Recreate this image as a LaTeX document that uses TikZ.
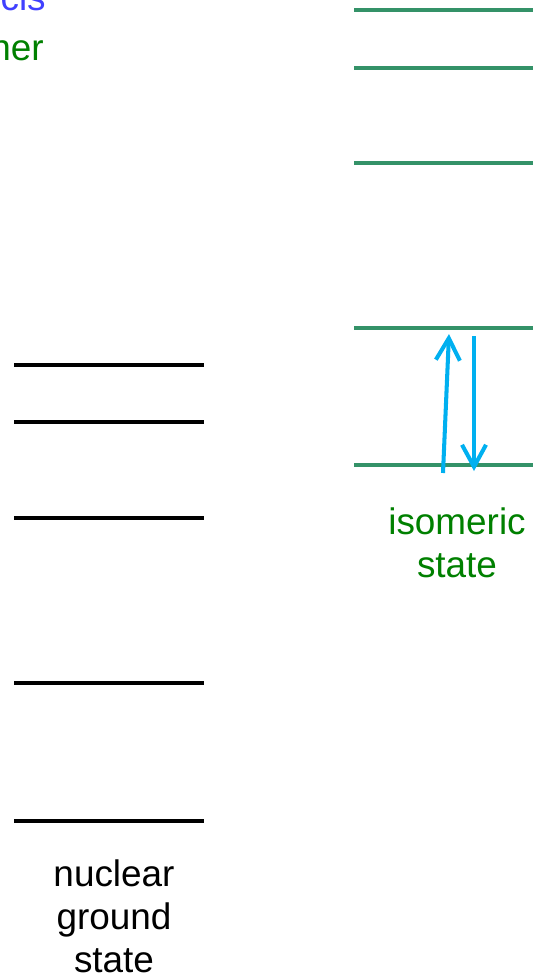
\documentclass[tikz,border=0pt]{standalone}
\usepackage{fontspec}
\setmainfont{Liberation Sans}
\usepackage{tikz}
\usetikzlibrary{arrows.meta,positioning}
\definecolor{levelgreen}{RGB}{52,146,104}
\definecolor{textgreen}{RGB}{0,128,0}
\definecolor{textblue}{RGB}{64,64,255}
\definecolor{transcyan}{RGB}{0,176,240}

\begin{document}
\begin{tikzpicture}[
  x=0.02cm, y=-0.02cm,
  level/.style={line width=2.3pt},
  isolevel/.style={line width=2.3pt, levelgreen},
  label/.style={align=center, inner sep=0pt, font=\fontsize{21}{24.4}\selectfont},
  trans/.style={-{Straight Barb[length=4.4mm, width=4.8mm]}, line width=2.3pt, transcyan}
]
\useasboundingbox (0,0) rectangle (533,978);
\begin{scope}
\clip (0,0) rectangle (533,978);
% header text, cut by the frame
\node[label, textblue, anchor=base east] (head1) at (46,10) {cis};
\node[label, textgreen, anchor=base east] (head2) at (44,60) {her};
% nuclear levels
\foreach \y [count=\i] in {821,683,518,422,365}
  \draw[level] (14,\y) coordinate (gs\i) -- (204,\y) coordinate (gsr\i);
% isomer levels
\foreach \y [count=\i] in {465,328,163,68,10}
  \draw[isolevel] (354,\y) coordinate (iso\i) -- (540,\y) coordinate (isor\i);
\end{scope}
\node[label, anchor=base] (gslabel) at (114,972) {nuclear\\ground\\state};
\node[label, textgreen, anchor=base] (isolabel) at (457,577) {isomeric\\state};
% transitions
\coordinate (upfrom) at (443,473);
\coordinate (upto) at (449,334);
\coordinate (downfrom) at (474,336);
\coordinate (downto) at (474,471);
\draw[trans] (upfrom) -- (upto);
\draw[trans] (downfrom) -- (downto);
\end{tikzpicture}
\end{document}
